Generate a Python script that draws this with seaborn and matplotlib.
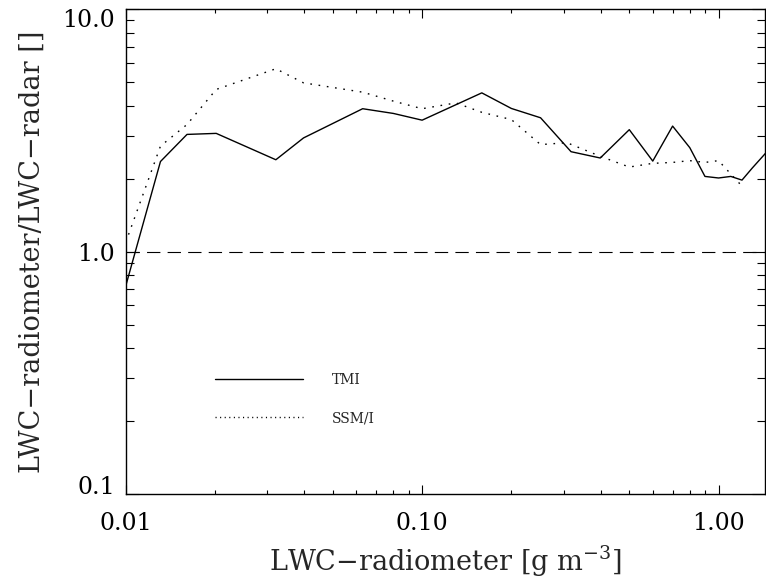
import numpy as np
import pandas as pd
import matplotlib as mpl
mpl.use('Agg')
import matplotlib.pyplot as plt
import seaborn as sns
from matplotlib.lines import Line2D

# ---- data ----
lwc_tmi = [0.01, 0.0131, 0.0161, 0.0202, 0.0321, 0.0398, 0.063, 0.080, 0.100,
           0.159, 0.200, 0.251, 0.318, 0.399, 0.50, 0.60, 0.70, 0.80, 0.90,
           1.00, 1.10, 1.20, 1.30, 1.44]
ratio_tmi = [0.72, 2.35, 3.04, 3.07, 2.39, 2.94, 3.88, 3.71, 3.48,
             4.51, 3.89, 3.56, 2.58, 2.43, 3.18, 2.36, 3.29, 2.68, 2.04,
             2.01, 2.04, 1.97, 2.21, 2.54]
lwc_ssmi = [0.01, 0.0131, 0.0161, 0.0202, 0.0321, 0.0398, 0.063, 0.080, 0.100,
            0.130, 0.159, 0.200, 0.251, 0.308, 0.399, 0.50, 0.60, 0.70, 0.80,
            0.90, 1.00, 1.20]
ratio_ssmi = [1.09, 2.72, 3.34, 4.66, 5.67, 4.96, 4.54, 4.17, 3.88,
              4.10, 3.75, 3.50, 2.76, 2.81, 2.47, 2.23, 2.31, 2.33, 2.37,
              2.33, 2.37, 1.86]
ref_level = 1.0
xticks = [0.01, 0.1, 1.0]
xticklabels = ['0.01', '0.10', '1.00']
yticks = [0.1, 1.0, 10.0]
yticklabels = ['0.1', '1.0', '10.0']

# ---- style ----
sns.set_style('ticks')
plt.rcParams['font.family'] = ['DejaVu Serif']
plt.rcParams['mathtext.default'] = 'regular'
TickFont = 17
LabelFont = 19.5
LegendFont = 10
LineWidth = 1.0

fig = plt.figure(figsize=(7.66, 5.81), dpi=100)
ax = fig.add_axes([0.1641, 0.1497, 0.8352, 0.8348])

df_tmi = pd.DataFrame({'lwc': lwc_tmi, 'ratio': ratio_tmi})
df_ssmi = pd.DataFrame({'lwc': lwc_ssmi, 'ratio': ratio_ssmi})
sns.lineplot(data=df_tmi, x='lwc', y='ratio', ax=ax, color='black',
             linewidth=LineWidth, sort=False, estimator=None)
sns.lineplot(data=df_ssmi, x='lwc', y='ratio', ax=ax, color='black',
             linewidth=LineWidth, sort=False, estimator=None)
ax.lines[-1].set_dashes((1.2, 4.8))
ax.axhline(ref_level, color='black', linewidth=0.8, dashes=(12, 6.5))

ax.set_xscale('log')
ax.set_yscale('log')
ax.set_xlim(0.01, 1.44)
ax.set_ylim(0.1, 10.0)
ax.set_xticks(xticks)
ax.set_xticklabels(xticklabels, fontsize=TickFont)
ax.set_yticks(yticks)
ax.set_yticklabels(yticklabels, fontsize=TickFont)
for lab, va in zip(ax.get_yticklabels(), ['baseline', 'center_baseline', 'top']):
    lab.set_verticalalignment(va)
ax.xaxis.set_minor_formatter(mpl.ticker.NullFormatter())
ax.yaxis.set_minor_formatter(mpl.ticker.NullFormatter())

ax.tick_params(which='both', direction='in', top=True, right=True, colors='black')
ax.tick_params(axis='x', which='major', length=6.8, width=0.8, pad=13)
ax.tick_params(axis='x', which='minor', length=3.2, width=0.8)
ax.tick_params(axis='y', which='major', length=9.2, width=0.8, pad=7.7)
ax.tick_params(axis='y', which='minor', length=5.5, width=0.8)
for sp in ax.spines.values():
    sp.set_linewidth(1.0)
    sp.set_color('black')

ax.set_xlabel(r'LWC−radiometer [g m$^{-3}$]', fontsize=LabelFont, labelpad=6)
ax.set_ylabel('LWC−radiometer/LWC−radar []', fontsize=LabelFont, labelpad=12)

# legend
h1 = Line2D([], [], color='black', linewidth=LineWidth)
h2 = Line2D([], [], color='black', linewidth=LineWidth, dashes=(0.8, 2.5))
ax.legend(handles=[h1, h2], labels=['TMI', 'SSM/I'], loc='center left',
          bbox_to_anchor=(0.1396, 0.196), frameon=False, fontsize=LegendFont,
          handlelength=6.3, handletextpad=2.1, labelspacing=1.75,
          borderpad=0, borderaxespad=0)

fig.savefig('out.png', dpi=100)
